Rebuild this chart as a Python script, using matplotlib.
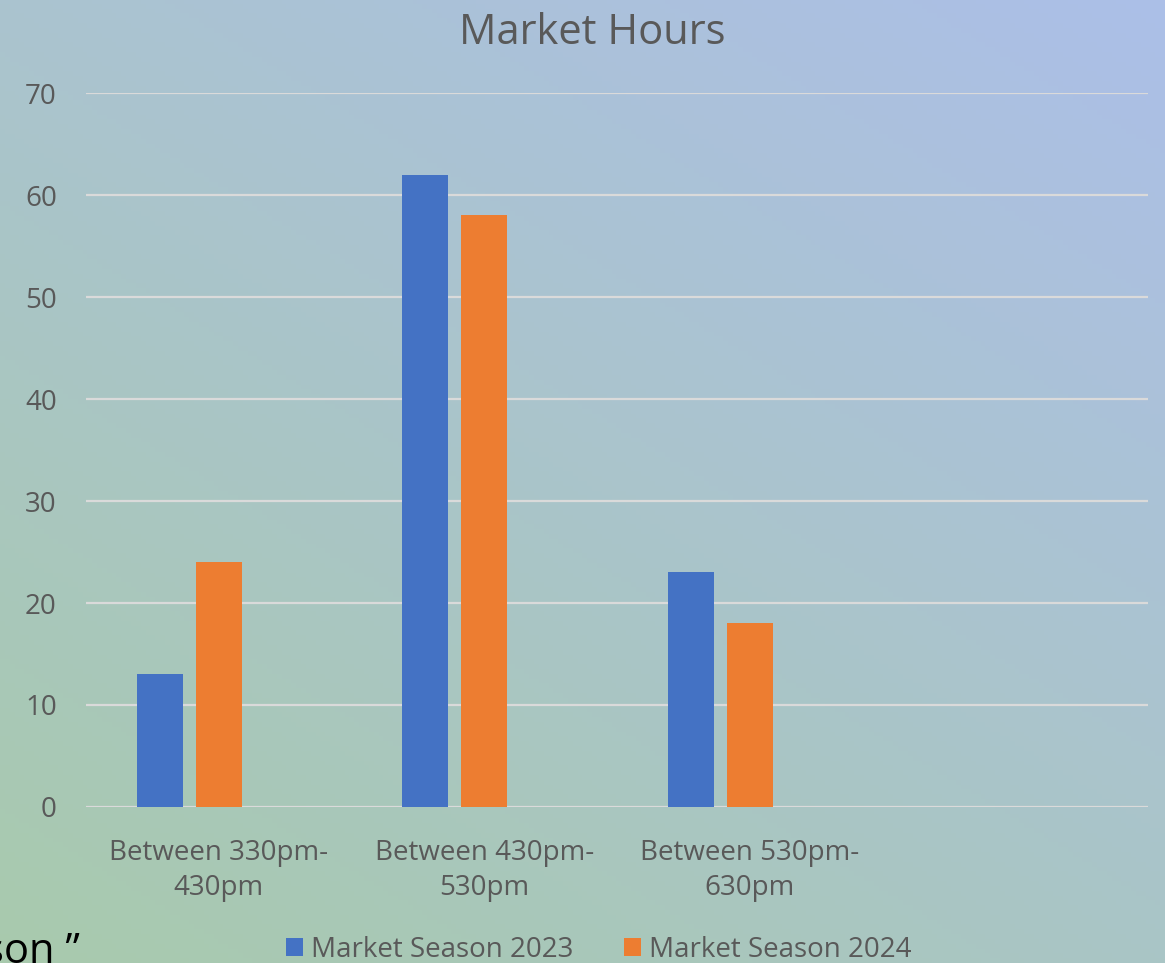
import numpy as np
import matplotlib
matplotlib.use("Agg")
import matplotlib.pyplot as plt

# datos
categorias = ["Between 330pm-\n430pm", "Between 430pm-\n530pm", "Between 530pm-\n630pm", ""]
season_2023 = [13, 62, 23, 0]
season_2024 = [24, 58, 18, 0]
etiquetas = ["Market Season 2023", "Market Season 2024"]
yticks = [0, 10, 20, 30, 40, 50, 60, 70]

azul = "#4472c4"
naranja = "#ed7d31"
gris = "#595959"

plt.rcParams['font.family'] = ['Open Sans', 'DejaVu Sans']

fig = plt.figure(figsize=(11.65, 9.63), dpi=100)

# fondo con degradado (verde abajo-izq, azul arriba-der)
bg = fig.add_axes([0, 0, 1, 1], zorder=-10)
h, w = 200, 240
yy, xx = np.mgrid[0:1:h * 1j, 0:1:w * 1j]
t = np.clip((xx * 0.55 + (1 - yy) * 0.75) / 1.3, 0, 1)
c0 = np.array([0xa8, 0xca, 0xad]) / 255.0
c1 = np.array([0xac, 0xbf, 0xe8]) / 255.0
img = c0[None, None, :] * (1 - t[..., None]) + c1[None, None, :] * t[..., None]
bg.imshow(img, aspect="auto", extent=[0, 1, 0, 1], origin="upper")
bg.axis("off")

ax = fig.add_axes([0.0738, 0.162, 0.9116, 0.7414])
ax.patch.set_alpha(0)

x = np.arange(len(categorias))
ancho = 0.173
paso = 0.222
ax.bar(x - paso, season_2023, ancho, color=azul, label=etiquetas[0], zorder=3)
ax.bar(x, season_2024, ancho, color=naranja, label=etiquetas[1], zorder=3)

ax.set_xlim(-0.5, len(categorias) - 0.5)
ax.set_ylim(0, 70)
ax.set_yticks(yticks)
ax.yaxis.grid(True, color="#dadada", linewidth=1.6, zorder=0)
ax.set_axisbelow(True)
for s in ax.spines.values():
    s.set_visible(False)
ax.tick_params(axis="both", length=0, colors=gris, labelsize=20)
ax.tick_params(axis="y", pad=21)
ax.tick_params(axis="x", pad=23)
ax.set_xticks(x)
ax.set_xticklabels(categorias, linespacing=1.35)

fig.text(0.508, 0.966, "Market Hours", ha="center", va="center", fontsize=30, color=gris)

ax.legend(loc="center", bbox_to_anchor=(0.483, -0.2), ncol=2, frameon=False,
          fontsize=20, labelcolor=gris, handlelength=0.6, handleheight=0.6,
          handletextpad=0.3, columnspacing=1.8)

fig.text(-0.014, -0.01, "son \u201d", ha="left", va="bottom", fontsize=30, color="black")

plt.savefig("out.png", dpi=100)
